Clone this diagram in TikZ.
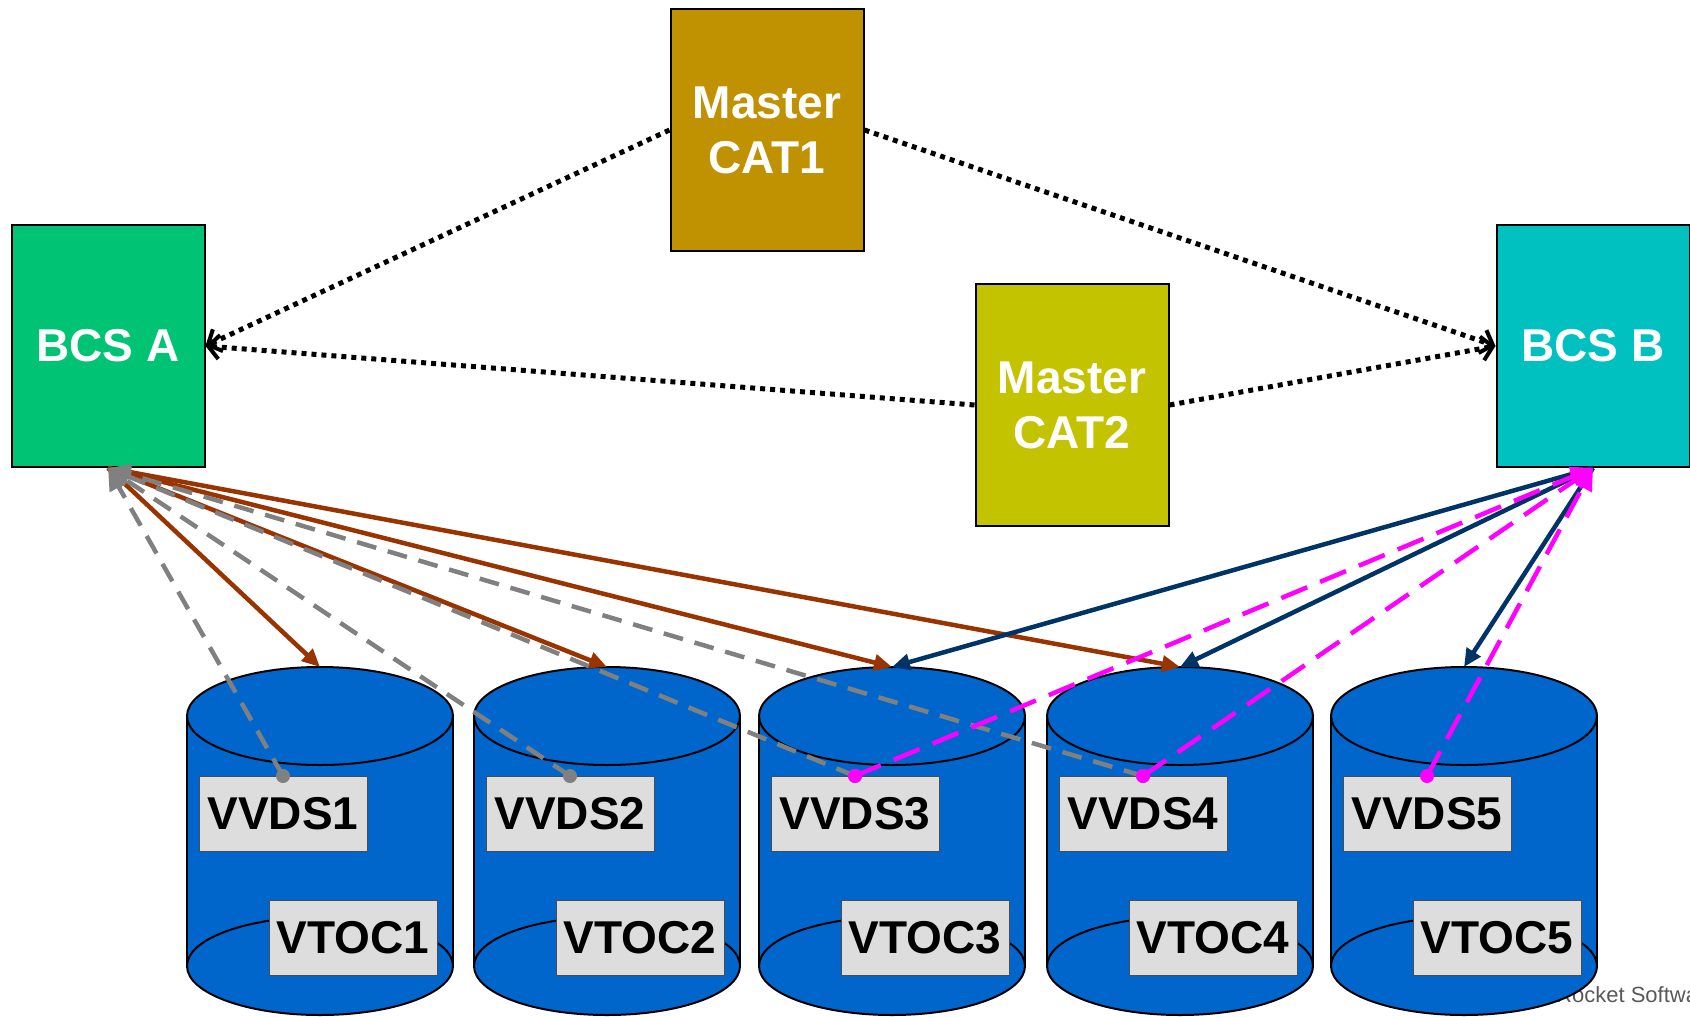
\documentclass[tikz,border=0pt]{standalone}
\usepackage{fontspec}
\setmainfont{Liberation Sans}
\usetikzlibrary{arrows.meta}
\definecolor{bcsagreen}{RGB}{0,195,115}
\definecolor{bcsbteal}{RGB}{0,192,192}
\definecolor{catone}{RGB}{192,145,0}
\definecolor{cattwo}{RGB}{195,195,0}
\definecolor{diskblue}{RGB}{0,102,204}
\definecolor{lblgray}{RGB}{221,221,221}
\definecolor{linkbrown}{RGB}{153,51,0}
\definecolor{linknavy}{RGB}{0,51,102}
\definecolor{linkgray}{RGB}{128,128,128}
\definecolor{linkpink}{RGB}{255,0,255}
\tikzset{
  bigbox/.style={draw=black, line width=2pt, minimum width=193, minimum height=242,
    inner sep=0pt, align=center, text=white,
    font=\fontsize{46}{55}\selectfont\bfseries},
  lbl/.style={draw=black!70, line width=1pt, fill=lblgray, minimum width=168,
    minimum height=75, inner sep=0pt, font=\fontsize{46}{55}\selectfont\bfseries},
  disk/.style={fill=diskblue, draw=black, line width=2pt},
  catlink/.style={line width=5pt, dash pattern=on 5pt off 5pt,
    -{Straight Barb[length=11pt,width=24pt,line width=4pt]}},
  brownlink/.style={linkbrown, line width=4.5pt, -{Triangle[length=18pt,width=16pt]}},
  navylink/.style={linknavy, line width=4.5pt, -{Triangle[length=18pt,width=16pt]}},
  graylink/.style={linkgray, line width=4.5pt, dash pattern=on 20pt off 12pt,
    -{Triangle[length=22pt,width=20pt]}},
  pinklink/.style={linkpink, line width=4.5pt, dash pattern=on 28pt off 14pt,
    -{Triangle[length=22pt,width=20pt]}}
}
\begin{document}
\begin{tikzpicture}[x=1pt,y=-1pt]
  \useasboundingbox (0,0) rectangle (1690,1017);
  \clip (0,0) rectangle (1690,1017);

  \node[text=black!65, anchor=base west, inner sep=0pt, font=\fontsize{22}{27}\selectfont] (footer) at (1556,1002) {Rocket Software};

  \node[bigbox, fill=bcsagreen] (bcsa) at (108,346) {BCS A};
  \node[bigbox, fill=bcsbteal] (bcsb) at (1593,346) {BCS B};
  \node[bigbox, fill=catone] (cat1) at (767,130) {Master\\CAT1};
  \node[bigbox, fill=cattwo] (cat2) at (1072,405) {Master\\CAT2};

  \foreach \i/\cx in {1/320,2/607,3/892,4/1180,5/1464}
  {
    \fill[diskblue] (\cx-133,716) rectangle (\cx+133,966);
    \filldraw[disk] (\cx,966) ellipse [x radius=133, y radius=49];
    \draw[line width=2pt] (\cx-133,716) -- (\cx-133,966) (\cx+133,716) -- (\cx+133,966);
    \filldraw[disk] (\cx,716) ellipse [x radius=133, y radius=49];
    \coordinate (disk\i) at (\cx,667);
    \node[lbl] (vvds\i) at (\cx-37,814) {VVDS\i};
    \node[lbl] (vtoc\i) at (\cx+33,938) {VTOC\i};
  }

  \draw[catlink] (cat1.west) -- (bcsa.east);
  \draw[catlink] (cat2.west) -- (bcsa.east);
  \draw[catlink] (cat1.east) -- (bcsb.west);
  \draw[catlink] (cat2.east) -- (bcsb.west);

  \foreach \i in {1,...,4}
    \draw[brownlink] (bcsa.south) -- (disk\i);
  \foreach \i in {3,4,5}
    \draw[navylink] (bcsb.south) -- (disk\i);

  \foreach \i in {1,...,4}
  {
    \draw[graylink] (vvds\i.north) -- (bcsa.south);
    \fill[linkgray] (vvds\i.north) circle (7);
  }
  \foreach \i in {3,4,5}
  {
    \draw[pinklink] (vvds\i.north) -- (bcsb.south);
    \fill[linkpink] (vvds\i.north) circle (7);
  }
\end{tikzpicture}
\end{document}
